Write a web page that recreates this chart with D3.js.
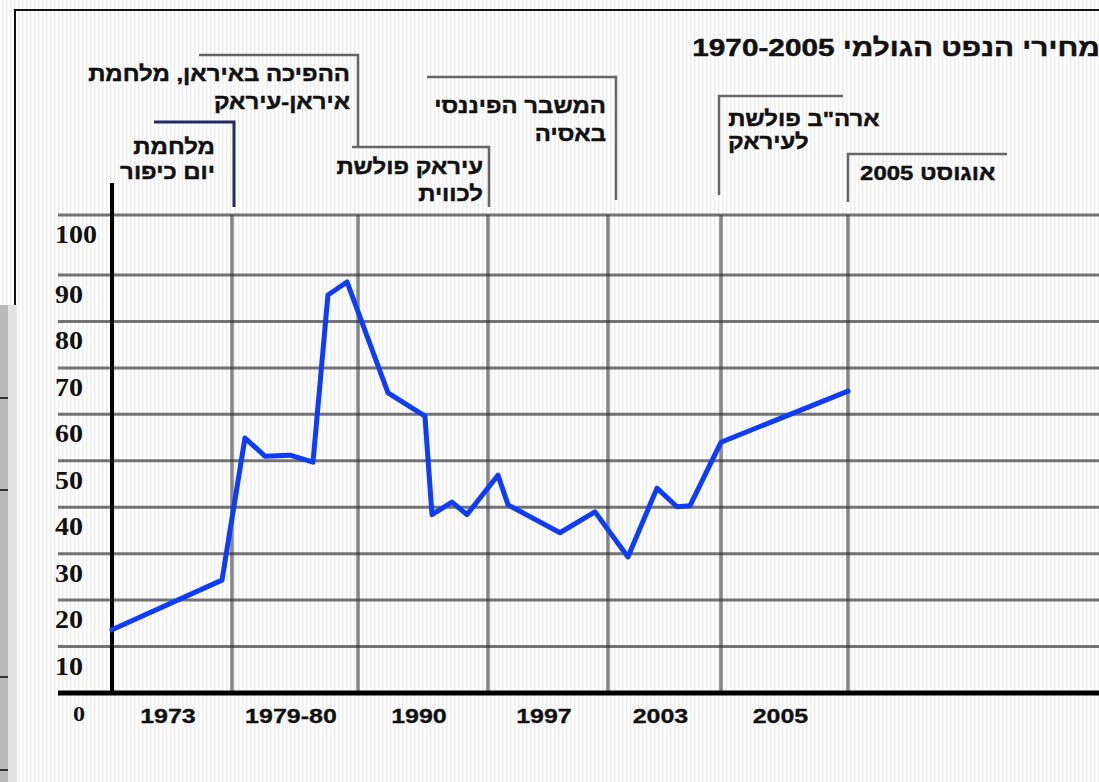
<!DOCTYPE html>
<html lang="he">
<head>
<meta charset="utf-8">
<title>מחירי הנפט הגולמי 1970-2005</title>
<script src="https://cdn.jsdelivr.net/npm/d3@7"></script>
<style>
  html, body { margin: 0; padding: 0; background: #fff; }
  svg { display: block; }
  .heb { font-family: "Liberation Sans", "DejaVu Sans", Arial, sans-serif; font-weight: bold; direction: rtl; unicode-bidi: embed; stroke: #111; stroke-width: 0.45; }
  .num { font-family: "Liberation Sans", Arial, sans-serif; font-weight: bold; stroke: #111; stroke-width: 0.3; }
  .ylab { font-family: "Liberation Serif", "Times New Roman", serif; font-weight: bold; }
</style>
</head>
<body>
<div id="chart"></div>
<script>
// ---- data ----
const title = "מחירי הנפט הגולמי 1970-2005";
const years  = [1970, 1972.75, 1973.72, 1974.83, 1976.22, 1977.5, 1978.33, 1979.39, 1982.31, 1985.15,
                1985.69, 1987.23, 1988.38, 1990.58, 1991.17, 1994.2, 1996.24, 1998.06, 1999.6, 2000.66,
                2001.35, 2003.0, 2005.0];
const prices = [13.6, 24.3, 54.9, 51.0, 51.2, 49.7, 85.7, 88.5, 64.6, 59.6,
                38.4, 41.1, 38.4, 46.9, 40.5, 34.5, 39.0, 29.3, 44.1, 40.1,
                40.3, 54.0, 65.0];
const yTicks = [0, 10, 20, 30, 40, 50, 60, 70, 80, 90, 100];
const tickYears  = [1973, 1980, 1990, 1997, 2003, 2005];
const tickLabels = ["1973", "1979-80", "1990", "1997", "2003", "2005"];
const eventYears = [1973, 1980, 1990, 1997, 2003, 2005];
const eventTexts = [
  ["מלחמת", "יום כיפור"],
  ["ההפיכה באיראן, מלחמת", "איראן-עיראק"],
  ["עיראק פולשת", "לכווית"],
  ["המשבר הפיננסי", "באסיה"],
  ["ארה\"ב פולשת", "לעיראק"],
  ["אוגוסט 2005"]
];

// ---- layout ----
const W = 1099, H = 782;
const gridLeft = 58;
const x = d3.scaleLinear()
  .domain([1970, 1973, 1980, 1990, 1997, 2003, 2005])
  .range([112, 232, 358, 488, 608, 721, 848]);
const y = d3.scaleLinear().domain([0, 90, 100]).range([693, 275, 215]);

// bracket layout per event: vertical offset, top/bottom, horizontal reach, text anchor, text rows
const bracketLayout = [
  { dx: 2,  top: 122, bottom: 207, reach: -80,  color: "#262a5e", w: 3,   align: "right", pad: -19, rows: [148, 173] },
  { dx: 0,  top: 55,  bottom: 147, reach: -159, color: "#666",    w: 2.5, align: "right", pad: -8,  rows: [75, 103] },
  { dx: 1,  top: 147, bottom: 207, reach: -137, color: "#666",    w: 2.5, align: "right", pad: -6,  rows: [168, 195] },
  { dx: 8,  top: 77,  bottom: 200, reach: -189, color: "#666",    w: 2.5, align: "right", pad: -10, rows: [107, 135] },
  { dx: -2, top: 96,  bottom: 195, reach: 124,  color: "#666",    w: 2.5, align: "left",  pad: 9,   rows: [120, 143] },
  { dx: 0,  top: 154, bottom: 202, reach: 159,  color: "#666",    w: 2.5, align: "left",  pad: 12,  rows: [174] }
];

const svg = d3.select("#chart").append("svg")
  .attr("width", W)
  .attr("height", H);

// stripes of the scanned paper
const defs = svg.append("defs");
const pat = defs.append("pattern")
  .attr("id", "stripes")
  .attr("width", 4).attr("height", 10)
  .attr("patternUnits", "userSpaceOnUse");
pat.append("rect").attr("width", 4).attr("height", 10).attr("fill", "#fff");
pat.append("rect").attr("x", 2).attr("width", 1.5).attr("height", 10).attr("fill", "#eeeeee");

svg.append("rect").attr("width", W).attr("height", H).attr("fill", "url(#stripes)");

// frame and left strip
svg.append("path")
  .attr("d", `M15,305 V10 H${W}`)
  .attr("fill", "none").attr("stroke", "#111").attr("stroke-width", 2);
svg.append("rect").attr("x", 0).attr("y", 305).attr("width", 8).attr("height", H - 305).attr("fill", "#b9b9b9");
svg.append("rect").attr("x", 8).attr("y", 305).attr("width", 9).attr("height", H - 305).attr("fill", "#e2e2e2");
const stripTicks = [398, 490, 677, 770];
svg.selectAll("line.stick").data(stripTicks).enter().append("line")
  .attr("class", "stick")
  .attr("x1", 0).attr("x2", 8)
  .attr("y1", d => d).attr("y2", d => d)
  .attr("stroke", "#333").attr("stroke-width", 2);

// grid
svg.append("g").selectAll("line").data(yTicks.filter(v => v > 0)).enter().append("line")
  .attr("x1", gridLeft).attr("x2", W)
  .attr("y1", d => y(d)).attr("y2", d => y(d))
  .attr("stroke", "#333").attr("stroke-opacity", 0.68).attr("stroke-width", 3);

svg.append("g").selectAll("line").data(tickYears).enter().append("line")
  .attr("x1", d => x(d)).attr("x2", d => x(d))
  .attr("y1", y(100)).attr("y2", y(0))
  .attr("stroke", "#333").attr("stroke-opacity", 0.58).attr("stroke-width", 3.5);

// axes
svg.append("line")
  .attr("x1", x(1970)).attr("x2", x(1970))
  .attr("y1", 183).attr("y2", y(0) + 2)
  .attr("stroke", "#000").attr("stroke-width", 4);
svg.append("line")
  .attr("x1", gridLeft).attr("x2", W)
  .attr("y1", y(0)).attr("y2", y(0))
  .attr("stroke", "#000").attr("stroke-width", 5);

// price line
const pts = years.map((yr, i) => [yr, prices[i]]);
svg.append("path")
  .datum(pts)
  .attr("fill", "none")
  .attr("stroke", "#0f3cf5")
  .attr("stroke-width", 5)
  .attr("stroke-linejoin", "round")
  .attr("stroke-linecap", "round")
  .attr("d", d3.line().x(d => x(d[0])).y(d => y(d[1])));

// stretched text helper: aligns the rendered box to an edge
function addText(str, cls, size, sx, px, baseline, align) {
  const t = svg.append("text")
    .attr("class", cls)
    .attr("font-size", size)
    .attr("fill", "#111")
    .text(str);
  const bb = t.node().getBBox();
  let tx;
  if (align === "right") tx = px - sx * (bb.x + bb.width);
  else if (align === "center") tx = px - sx * (bb.x + bb.width / 2);
  else tx = px - sx * bb.x;
  t.attr("transform", `translate(${tx},${baseline}) scale(${sx},1)`);
  return t;
}

// event brackets
eventYears.forEach((yr, i) => {
  const L = bracketLayout[i];
  const vx = x(yr) + L.dx;
  svg.append("path")
    .attr("d", `M${vx + L.reach},${L.top} H${vx} V${L.bottom}`)
    .attr("fill", "none")
    .attr("stroke", L.color)
    .attr("stroke-width", L.w);
  eventTexts[i].forEach((line, j) => {
    addText(line, "heb", 21, 1.14, vx + L.pad, L.rows[j] + 6, L.align);
  });
});

// title
addText(title, "heb", 24, 1.24, 692, 56, "left");

// y labels
yTicks.forEach(v => {
  if (v === 0) addText("0", "ylab", 22, 1.1, 79, 721, "center");
  else addText(String(v), "ylab", 25, 1.12, 55, y(v) + 28, "left");
});

// x labels, centred in the span left of each line
tickYears.forEach((yr, i) => {
  const prev = i === 0 ? x(1970) : x(tickYears[i - 1]);
  const cx = (prev + x(yr)) / 2 - 4;
  addText(tickLabels[i], "num", 20, 1.25, cx, 723, "center");
});
</script>
</body>
</html>
